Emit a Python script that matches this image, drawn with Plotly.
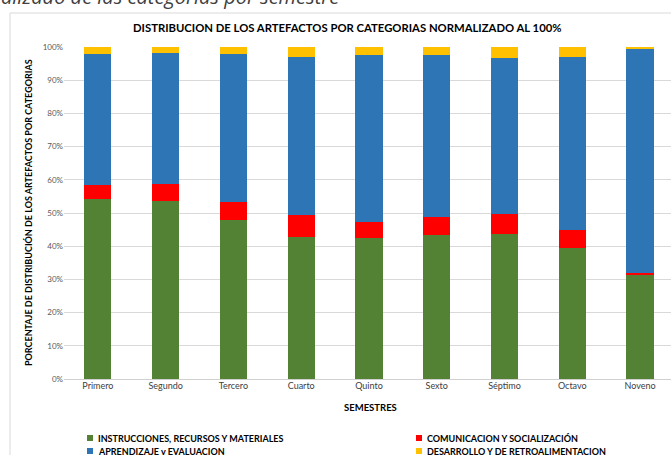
import plotly.graph_objects as go

# Semesters and the share (%) of each artefact category per semester
semestres = ["Primero", "Segundo", "Tercero", "Cuarto", "Quinto",
             "Sexto", "Séptimo", "Octavo", "Noveno"]
instrucciones = [54.2, 53.6, 47.9, 42.7, 42.6, 43.4, 43.8, 39.5, 31.4]
comunicacion = [4.2, 5.1, 5.5, 6.8, 4.8, 5.4, 5.9, 5.5, 0.5]
aprendizaje = [39.5, 39.4, 44.5, 47.6, 50.1, 48.7, 47.1, 52.1, 67.6]
desarrollo = [2.1, 1.9, 2.1, 2.9, 2.5, 2.5, 3.2, 2.9, 0.5]

series = [
    ("INSTRUCCIONES, RECURSOS Y MATERIALES", instrucciones, "#548235"),
    ("COMUNICACION Y SOCIALIZACIÓN", comunicacion, "#FF0000"),
    ("APRENDIZAJE y EVALUACION", aprendizaje, "#2E75B6"),
    ("DESARROLLO Y DE RETROALIMENTACION", desarrollo, "#FFC000"),
]

W, H = 671, 455
L, T, B = 64, 47, 76
PW, PH = W - L, H - T - B
FONT = "Lato, 'Open Sans', sans-serif"


def px(x):
    return (x - L) / PW


def py(y):
    return (H - B - y) / PH


fig = go.Figure()
for name, vals, color in series:
    fig.add_trace(go.Bar(
        x=semestres, y=vals, name=name,
        marker=dict(color=color, line=dict(width=0)),
        showlegend=False,
    ))

fig.update_layout(
    width=W, height=H,
    margin=dict(l=L, r=0, t=T, b=B),
    barmode="stack", barnorm="percent", bargap=0.6,
    plot_bgcolor="white", paper_bgcolor="white",
    font=dict(family=FONT, color="#595959"),
    xaxis=dict(
        range=[-0.5, 8.457], showgrid=False, ticks="",
        tickfont=dict(size=9, color="#404040"),
        showline=False,
    ),
    yaxis=dict(
        range=[0, 100], dtick=10, ticksuffix="%",
        gridcolor="#d9d9d9", gridwidth=1,
        zeroline=True, zerolinecolor="#d0d0d0", zerolinewidth=1,
        tickfont=dict(size=8, color="#595959"),
        ticks="", showline=False,
    ),
)

# outer chart border
fig.add_shape(type="rect", xref="paper", yref="paper",
              x0=px(10), x1=px(690), y0=py(480), y1=py(13),
              line=dict(color="#d9d9d9", width=1), fillcolor="rgba(0,0,0,0)",
              layer="below")

ann = []


def note(text, x, y, size, xanchor="center", yanchor="middle", color="#000000",
         family=None, angle=0):
    f = dict(size=size, color=color)
    if family:
        f["family"] = family
    ann.append(dict(text=text, x=px(x), y=py(y), xref="paper", yref="paper",
                    xanchor=xanchor, yanchor=yanchor, textangle=angle,
                    font=f, showarrow=False))


note("<i>alizado de las categorías por semestre</i>", -1, 12, 20,
     xanchor="left", yanchor="bottom", color="#404040",
     family="'Open Sans', sans-serif")
note("<b>DISTRIBUCION DE LOS ARTEFACTOS POR CATEGORIAS NORMALIZADO AL 100%</b>",
     347, 28, 11.3)
note("<b>PORCENTAJE DE DISTRIBUCIÓN DE LOS ARTEFACTOS POR CATEGORIAS</b>",
     28, 213, 9, angle=-90)
note("<b>SEMESTRES</b>", 370, 407, 9.5)

# legend laid out in two columns
legend_pos = [(90, 438), (419, 438), (90, 451), (419, 451)]
for (lx, ly), (name, _, color) in zip(legend_pos, series):
    fig.add_shape(type="rect", xref="paper", yref="paper",
                  x0=px(lx - 3), x1=px(lx + 3), y0=py(ly + 3), y1=py(ly - 3),
                  fillcolor=color, line=dict(width=0))
    note("<b>" + name + "</b>", lx + 6, ly, 9, xanchor="left")

fig.update_layout(annotations=ann)
fig.write_html("out.html")
